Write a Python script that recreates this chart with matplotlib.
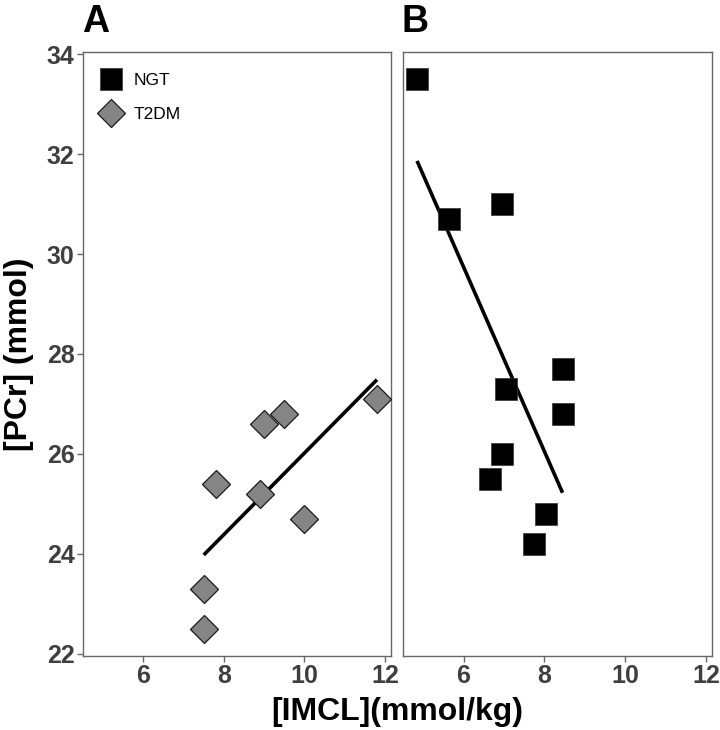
import numpy as np
import matplotlib
matplotlib.use("Agg")
import matplotlib.pyplot as plt
from matplotlib.lines import Line2D

plt.rcParams['font.family'] = ['Liberation Sans', 'DejaVu Sans']

# Data
t2dm_x = [7.5, 7.5, 7.8, 8.9, 9.0, 9.5, 10.0, 11.8]
t2dm_y = [22.5, 23.3, 25.4, 25.2, 26.6, 26.8, 24.7, 27.1]
ngt_x = [4.85, 5.65, 6.95, 7.05, 8.45, 8.45, 6.95, 6.65, 8.05, 7.75]
ngt_y = [33.5, 30.7, 31.0, 27.3, 27.7, 26.8, 26.0, 25.5, 24.8, 24.2]
x_ticks = [6, 8, 10, 12]
y_ticks = [22, 24, 26, 28, 30, 32, 34]
group_labels = ["NGT", "T2DM"]
panel_labels = ["A", "B"]

W, H = 720, 730
fig = plt.figure(figsize=(W / 100, H / 100), dpi=100)

def rect(l, r, t, b):
    return [l / W, 1 - b / H, (r - l) / W, (b - t) / H]

axA = fig.add_axes(rect(83, 391, 52, 656))
axB = fig.add_axes(rect(403, 712, 52, 656))

allx = np.array(t2dm_x + ngt_x)
ally = np.array(t2dm_y + ngt_y)
xr = allx.max() - allx.min()
yr = ally.max() - ally.min()
xlim = (allx.min() - 0.05 * xr, allx.max() + 0.05 * xr)
ylim = (ally.min() - 0.05 * yr, ally.max() + 0.05 * yr)

tick_col = '#3f3f3f'
spine_col = '#666666'

def fit_line(ax, x, y):
    x = np.asarray(x); y = np.asarray(y)
    k, b = np.polyfit(x, y, 1)
    xs = np.array([x.min(), x.max()])
    ax.plot(xs, k * xs + b, color='black', lw=2.6, solid_capstyle='butt', zorder=2)

# Panel A: T2DM
axA.plot(t2dm_x, t2dm_y, linestyle='none', marker='D', markersize=14.5,
         markerfacecolor='#858585', markeredgecolor='#1a1a1a', markeredgewidth=0.9, zorder=3)
fit_line(axA, t2dm_x, t2dm_y)

# Panel B: NGT
axB.plot(ngt_x, ngt_y, linestyle='none', marker='s', markersize=16.5,
         markerfacecolor='black', markeredgecolor='#333333', markeredgewidth=0.5, zorder=3)
fit_line(axB, ngt_x, ngt_y)

for ax in (axA, axB):
    ax.set_xlim(xlim)
    ax.set_ylim(ylim)
    ax.set_xticks(x_ticks)
    ax.set_yticks(y_ticks)
    for s in ax.spines.values():
        s.set_color(spine_col)
        s.set_linewidth(1.0)
    ax.tick_params(axis='both', direction='out', length=4, width=1, color=spine_col,
                   labelsize=18, labelcolor=tick_col, pad=2)
    for lab in ax.get_xticklabels() + ax.get_yticklabels():
        lab.set_fontweight('bold')

axB.tick_params(axis='y', left=False, labelleft=False)

# Legend in panel A
handles = [
    Line2D([], [], linestyle='none', marker='s', markersize=16.5,
           markerfacecolor='black', markeredgecolor='#333333', markeredgewidth=0.5),
    Line2D([], [], linestyle='none', marker='D', markersize=14.5,
           markerfacecolor='#858585', markeredgecolor='#1a1a1a', markeredgewidth=0.9),
]
axA.legend(handles, group_labels, loc='upper left', bbox_to_anchor=(0.064, 0.966),
           frameon=False, fontsize=12.5, borderaxespad=0, borderpad=0,
           handlelength=1.0, handletextpad=0.8, labelspacing=1.12)

# Panel letters
fig.text(82 / W, 1 - 32 / H, panel_labels[0], fontsize=27, fontweight='bold',
         ha='left', va='baseline')
fig.text(402 / W, 1 - 32 / H, panel_labels[1], fontsize=27, fontweight='bold',
         ha='left', va='baseline')

# Axis titles
fig.text(397.5 / W, 1 - 712 / H, "[IMCL](mmol/kg)", fontsize=23, fontweight='bold',
         ha='center', va='center')
fig.text(19 / W, 1 - 354 / H, "[PCr] (mmol)", fontsize=23, fontweight='bold',
         ha='center', va='center', rotation=90)

fig.savefig("out.png", dpi=100)
